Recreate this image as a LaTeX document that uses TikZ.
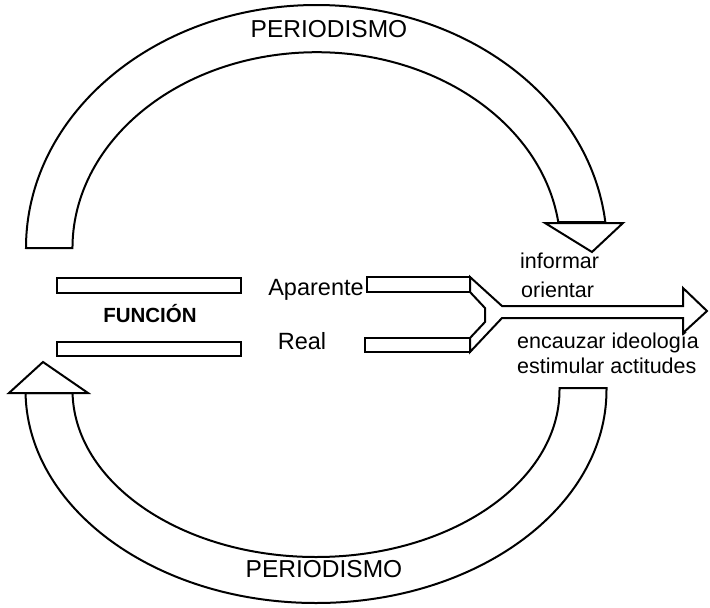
\documentclass[tikz,border=0pt]{standalone}
\usepackage{fontspec}
\setmainfont{Liberation Sans}
\begin{document}
\begin{tikzpicture}[x=1pt,y=-1pt,
  shp/.style={draw=black, line width=2pt, line join=miter, fill=white},
  lbl/.style={inner sep=0pt, font=\fontsize{21.5}{24}\selectfont},
  mid/.style={inner sep=0pt, font=\fontsize{23.5}{26}\selectfont},
  big/.style={inner sep=0pt, font=\fontsize{24.5}{28}\selectfont}]
\useasboundingbox (0,0) rectangle (710,608);
\fill[white] (0,0) rectangle (710,608);

% top curved band
\draw[shp] (26,248) arc[start angle=180,end angle=353.9,x radius=290.5,y radius=243]
  -- (558.3,222.2) arc[start angle=352.37,end angle=180,x radius=244,y radius=196] -- cycle;
\draw[shp] (545,223) -- (623,223) -- (592,252) -- cycle;

% bottom curved band
\draw[shp] (25.5,393) -- (25.5,390) arc[start angle=180,end angle=0,x radius=290.5,y radius=213]
  -- (606.5,388) -- (559.5,388) -- (559.5,390)
  arc[start angle=0,end angle=180,x radius=243.5,y radius=167] -- (72.5,393) -- cycle;
\draw[shp] (9,393) -- (88,393) -- (43,362) -- cycle;

% left bars
\draw[shp] (57,278) rectangle (241,293);
\draw[shp] (57,342) rectangle (241,356);

% right bars, fork and arrow
\draw[shp] (367,277) rectangle (470,292);
\draw[shp] (365,338) rectangle (470,352);
\draw[shp] (470,277) -- (502,306) -- (683,306) -- (683,288) -- (707,311)
  -- (683,333) -- (683,318) -- (502,318) -- (470,352) -- (470,338)
  -- (485,322) -- (485,308) -- (470,292) -- cycle;

% texts
\node[big, anchor=base] (ptop) at (329,37) {PERIODISMO};
\node[big, anchor=base] (pbot) at (324,577) {PERIODISMO};
\node[inner sep=0pt, anchor=base, font=\fontsize{20.5}{24}\selectfont\bfseries] (fun) at (150,322) {FUNCIÓN};
\node[mid, anchor=base] (apa) at (316,295) {Aparente};
\node[mid, anchor=base] (real) at (302,349) {Real};
\node[lbl, anchor=base west] (inf) at (520,268) {informar};
\node[lbl, anchor=base west] (ori) at (521,297) {orientar};
\node[lbl, anchor=base west] (enc) at (517,348) {encauzar ideología};
\node[lbl, anchor=base west] (est) at (517,373) {estimular actitudes};
\end{tikzpicture}
\end{document}
